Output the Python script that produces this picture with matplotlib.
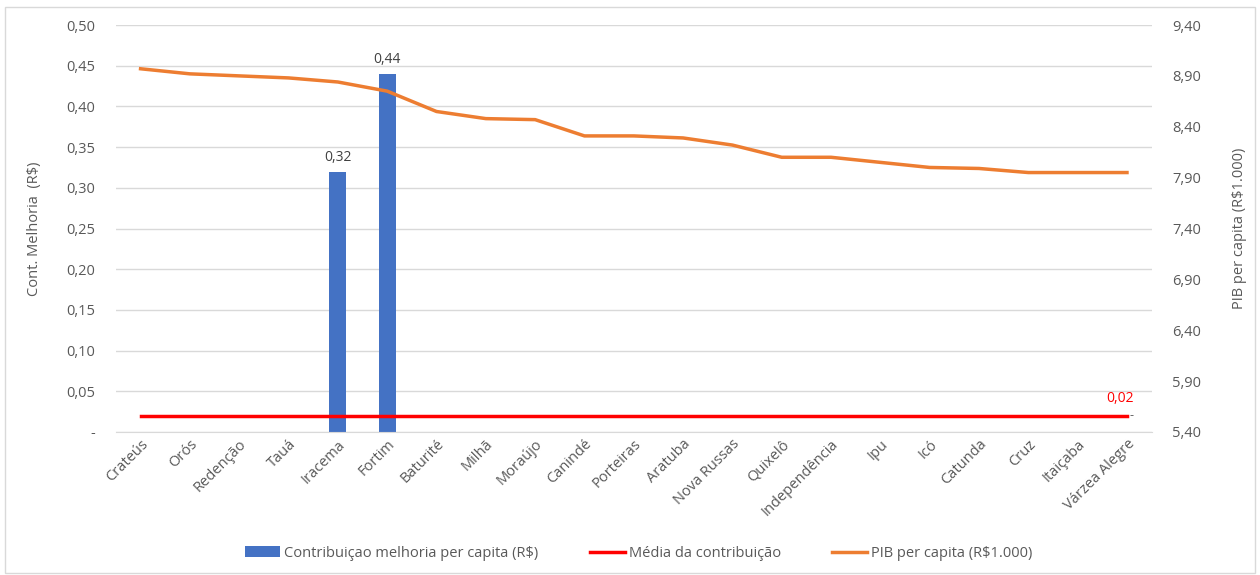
import matplotlib.pyplot as plt
from matplotlib.patches import Rectangle

plt.rcParams['font.family'] = ['Open Sans', 'DejaVu Sans']

municipios = ['Crateús', 'Orós', 'Redenção', 'Tauá', 'Iracema', 'Fortim', 'Baturité',
              'Milhã', 'Moraújo', 'Canindé', 'Porteiras', 'Aratuba', 'Nova Russas',
              'Quixelô', 'Independência', 'Ipu', 'Icó', 'Catunda', 'Cruz', 'Itaiçaba',
              'Várzea Alegre']
contribuicao = [0, 0, 0, 0, 0.32, 0.44, 0, 0, 0, 0, 0, 0, 0, 0, 0, 0, 0, 0, 0, 0, 0]
media = 0.02
pib = [8.97, 8.92, 8.90, 8.88, 8.84, 8.75, 8.55, 8.48, 8.47, 8.31, 8.31, 8.29, 8.22,
       8.10, 8.10, 8.05, 8.00, 7.99, 7.95, 7.95, 7.95]

left_ticks = [0, 0.05, 0.10, 0.15, 0.20, 0.25, 0.30, 0.35, 0.40, 0.45, 0.50]
right_ticks = [5.40, 5.90, 6.40, 6.90, 7.40, 7.90, 8.40, 8.90, 9.40]

gray = '#595959'
x = range(len(municipios))

fig = plt.figure(figsize=(12.6, 5.75), dpi=100)
ax = fig.add_axes([0.092, 0.2487, 0.822, 0.7078])
ax2 = ax.twinx()

# bars + average line on left axis
bars = ax.bar(x, contribuicao, width=0.35, color='#4472C4', zorder=2,
              label='Contribuiçao melhoria per capita (R$)')
line_media, = ax.plot(x, [media] * len(municipios), color='#FF0000', lw=2.5, zorder=3,
                      label='Média da contribuição')
for i, v in enumerate(contribuicao):
    if v > 0:
        ax.text(i, v + 0.008, f'{v:.2f}'.replace('.', ','), ha='center', va='bottom',
                fontsize=10, color='#404040')
ax.text(len(municipios) - 1.15, media + 0.012, f'{media:.2f}'.replace('.', ','),
        ha='center', va='bottom', fontsize=10, color='#FF0000')
ax.text(len(municipios) - 0.95, media, '-', ha='left', va='center', fontsize=9, color=gray)

ax.set_xlim(-0.5, len(municipios) - 0.5)
ax.set_ylim(0, 0.5)
ax.set_yticks(left_ticks)
ax.set_yticklabels(['-'] + [f'{t:.2f}'.replace('.', ',') for t in left_ticks[1:]])
ax.yaxis.grid(True, color='#D9D9D9', lw=1, zorder=0)
ax.set_axisbelow(True)
ax.set_xticks(list(x))
ax.set_xticklabels(municipios, rotation=45, ha='right', rotation_mode='anchor')
ax.set_ylabel('Cont. Melhoria  (R$)', color=gray, fontsize=10.5)
ax.yaxis.set_label_coords(-0.071, 0.5)

# PIB on right axis
line_pib, = ax2.plot(x, pib, color='#ED7D31', lw=2.5, zorder=4,
                     label='PIB per capita (R$1.000)')
ax2.set_ylim(5.40, 9.40)
ax2.set_yticks(right_ticks)
ax2.set_yticklabels([f'{t:.2f}'.replace('.', ',') for t in right_ticks])
ax2.set_ylabel('PIB per capita (R$1.000)', color=gray, fontsize=10.5)
ax2.yaxis.set_label_coords(1.078, 0.5)

for a in (ax, ax2):
    for s in a.spines.values():
        s.set_visible(False)
    a.tick_params(length=0, colors=gray, labelsize=10.5)
ax.spines['bottom'].set_visible(True)
ax.spines['bottom'].set_color('#D9D9D9')
ax.tick_params(axis='y', pad=15)
ax2.tick_params(axis='y', pad=15)

leg = fig.legend([bars, line_media, line_pib],
                 [bars.get_label(), line_media.get_label(), line_pib.get_label()],
                 loc='center', bbox_to_anchor=(0.507, 0.038), ncol=3,
                 frameon=False, fontsize=10.5, handlelength=2.4, columnspacing=3.5,
                 handletextpad=0.3)
for t in leg.get_texts():
    t.set_color(gray)

fig.patches.append(Rectangle((0.004, 0.004), 0.992, 0.984, transform=fig.transFigure,
                             fill=False, edgecolor='#D9D9D9', lw=1))

fig.savefig('out.png', dpi=100)
